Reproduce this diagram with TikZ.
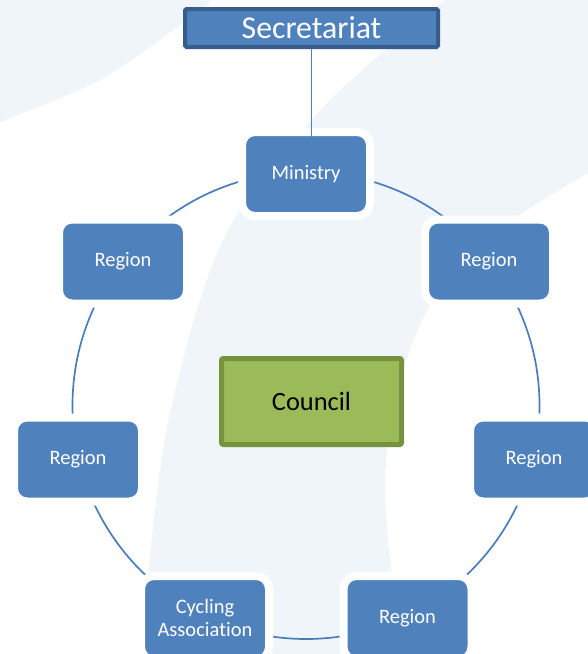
\documentclass[tikz,border=0pt]{standalone}
\usepackage{fontspec}
\setmainfont{Carlito}[Ligatures=NoCommon]
\usetikzlibrary{calc}
\definecolor{nodeblue}{HTML}{4F81BD}
\definecolor{ringblue}{HTML}{4A7EBB}
\definecolor{secborder}{HTML}{385D8A}
\definecolor{councilgreen}{HTML}{9BBB59}
\definecolor{councilborder}{HTML}{76923C}
\definecolor{tint}{HTML}{F0F5F9}
\tikzset{
  unit/.style={rectangle, rounded corners=13pt, fill=nodeblue, draw=white, line width=8pt,
    minimum width=128pt, minimum height=84pt, text=white, align=center, inner sep=0pt,
    font=\fontsize{20.5}{23}\selectfont},
  secbox/.style={rectangle, rounded corners=1.5pt, fill=nodeblue, draw=secborder, line width=4pt,
    minimum width=253pt, minimum height=38pt, text=white, inner sep=0pt,
    font=\fontsize{31.8}{36}\selectfont},
  councilbox/.style={rectangle, rounded corners=2pt, fill=councilgreen, draw=councilborder, line width=5pt,
    minimum width=180pt, minimum height=86pt, text=black, inner sep=0pt,
    font=\fontsize{26.4}{30}\selectfont},
  ring/.style={draw=ringblue, line width=1.7pt},
  conn/.style={draw=nodeblue, line width=1.8pt}
}
\begin{document}
\begin{tikzpicture}[x=1pt,y=-1pt]
\useasboundingbox (0,0) rectangle (588,654);
\clip (0,0) rectangle (588,654);
\fill[white] (0,0) rectangle (588,654);
% watermark shapes
\fill[tint] (0,0) -- plot[smooth] coordinates {(212,0) (180,25) (100,80) (0,122)} -- cycle;
\fill[tint] plot[smooth] coordinates {(445,0) (330,100) (240,210) (200,300) (163,450) (140,654)}
  -- plot[smooth] coordinates {(405,654) (390,560) (385,480) (393,410) (407,357) (433,300) (475,250) (527,210) (588,173)}
  -- (588,0) -- cycle;
% ring
\coordinate (ctr) at (306,405.5);
\draw[ring] (ctr) circle[radius=233.5];
% nodes
\node[secbox] (sec) at (311.5,28) {Secretariat};
\node[unit] (min) at (306,174) {Ministry};
\node[unit] (r1) at (489,261.5) {Region};
\node[unit] (r2) at (534,459.5) {Region};
\node[unit] (r3) at (407.5,618) {Region};
\node[unit] (ca) at (205,618) {Cycling\\Association};
\node[unit] (r5) at (78,459.5) {Region};
\node[unit] (r6) at (123,261.5) {Region};
\node[councilbox] (council) at (311.5,401.5) {Council};
% connector
\draw[conn] (sec.south) -- ($(sec.south |- min.north)+(0,30)$);
\end{tikzpicture}
\end{document}
